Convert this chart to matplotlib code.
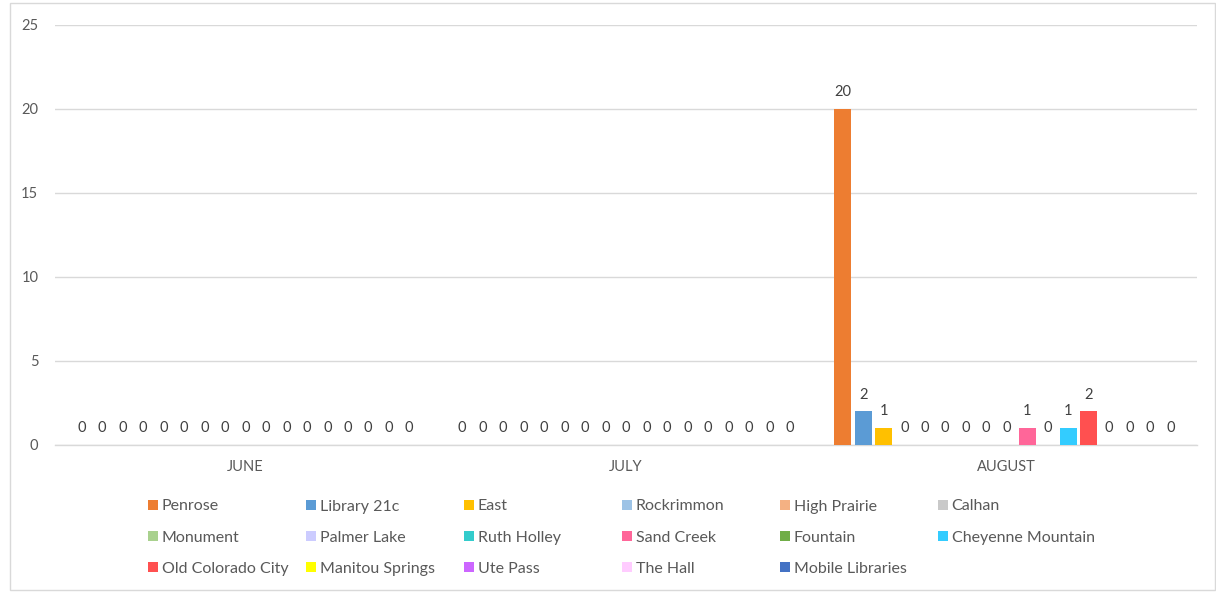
import matplotlib
matplotlib.use("Agg")
import matplotlib.pyplot as plt
from matplotlib.patches import Rectangle
import numpy as np

plt.rcParams['font.family'] = ['Lato', 'DejaVu Sans']

months = ["JUNE", "JULY", "AUGUST"]
libraries = ["Penrose", "Library 21c", "East", "Rockrimmon", "High Prairie", "Calhan",
             "Monument", "Palmer Lake", "Ruth Holley", "Sand Creek", "Fountain",
             "Cheyenne Mountain", "Old Colorado City", "Manitou Springs", "Ute Pass",
             "The Hall", "Mobile Libraries"]
june = [0, 0, 0, 0, 0, 0, 0, 0, 0, 0, 0, 0, 0, 0, 0, 0, 0]
july = [0, 0, 0, 0, 0, 0, 0, 0, 0, 0, 0, 0, 0, 0, 0, 0, 0]
august = [20, 2, 1, 0, 0, 0, 0, 0, 0, 1, 0, 1, 2, 0, 0, 0, 0]
colors = ["#ED7D31", "#5B9BD5", "#FFC000", "#9DC3E6", "#F4B183", "#C9C9C9",
          "#A9D18E", "#CCCCFF", "#33CCCC", "#FF6699", "#70AD47", "#33CCFF",
          "#FF5050", "#FFFF00", "#CC66FF", "#FFCCFF", "#4472C4"]

values = np.array([june, july, august]).T  # rows = libraries
text_col = "#595959"
grid_col = "#D9D9D9"

fig = plt.figure(figsize=(12.16, 5.92), dpi=100)
ax = fig.add_axes([55 / 1216, 1 - 445 / 592, 1142 / 1216, 420 / 592])

x = np.arange(len(months))
n = len(libraries)
slot = 0.0538
width = 0.0446
containers = []
for i, lib in enumerate(libraries):
    pos = x + (i - (n - 1) / 2) * slot
    bars = ax.bar(pos, values[i], width=width, color=colors[i], label=lib, zorder=3)
    containers.append(bars)
    for xp, v in zip(pos, values[i]):
        ax.annotate(str(v), (xp, v), xytext=(0, 7), textcoords="offset points",
                    ha="center", va="bottom", fontsize=10.5, color="#404040")

ax.set_xlim(-0.5, 2.5)
ax.set_ylim(0, 25)
ax.set_yticks([0, 5, 10, 15, 20, 25])
ax.set_xticks(x)
ax.set_xticklabels(months)
ax.tick_params(axis="both", length=0, labelsize=10.5, labelcolor=text_col)
ax.tick_params(axis="x", pad=11)
ax.tick_params(axis="y", pad=12)
ax.yaxis.grid(True, color=grid_col, linewidth=1, zorder=0)
for s in ["top", "right", "left"]:
    ax.spines[s].set_visible(False)
ax.spines["bottom"].set_color(grid_col)
ax.spines["bottom"].set_linewidth(1)

# legend laid out like the original: 6 evenly spaced columns, row-major order
col_x = [148, 306, 464, 622, 780, 938]
for j, cx in enumerate(col_x):
    idx = [k for k in range(j, n, 6)]
    fig.legend([containers[k] for k in idx], [libraries[k] for k in idx],
               loc="upper left", bbox_to_anchor=(cx / 1216, 1 - 499.5 / 592),
               frameon=False, fontsize=11.5, labelcolor=text_col,
               handlelength=0.6, handleheight=0.6, handletextpad=0.25,
               labelspacing=1.07, borderaxespad=0, borderpad=0)

fig.patches.append(Rectangle((10 / 1216, 2 / 592), 1205 / 1216, 587 / 592,
                             transform=fig.transFigure, fill=False,
                             edgecolor=grid_col, linewidth=1))

fig.savefig("out.png", dpi=100)
